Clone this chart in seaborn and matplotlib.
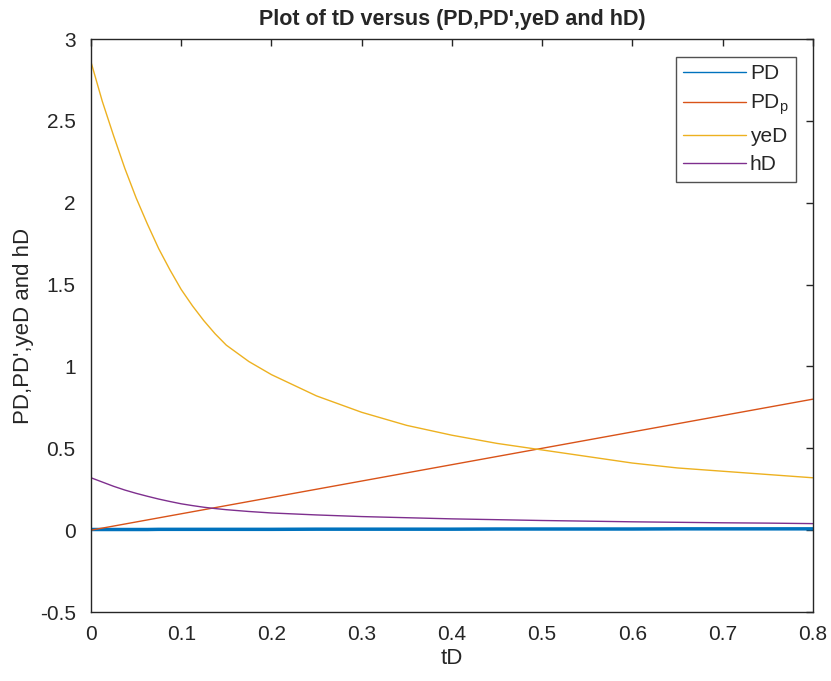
import numpy as np
import pandas as pd
import matplotlib
matplotlib.use("Agg")
import matplotlib.pyplot as plt
import seaborn as sns

# nilai
tD = [0, 0.0125, 0.025, 0.0375, 0.05, 0.0625, 0.075, 0.0875, 0.1, 0.1125, 0.125, 0.1375,
      0.15, 0.175, 0.2, 0.25, 0.3, 0.35, 0.4, 0.45, 0.5, 0.55, 0.6, 0.65, 0.7, 0.75, 0.8]
PD = [0.004, 0.004, 0.004, 0.004, 0.004, 0.004, 0.005, 0.005, 0.005, 0.005, 0.005, 0.005,
      0.005, 0.005, 0.005, 0.006, 0.006, 0.006, 0.006, 0.007, 0.007, 0.007, 0.007, 0.008,
      0.008, 0.008, 0.008]
PDp = [0, 0.0125, 0.025, 0.0375, 0.05, 0.0625, 0.075, 0.0875, 0.1, 0.1125, 0.125, 0.1375,
       0.15, 0.175, 0.2, 0.25, 0.3, 0.35, 0.4, 0.45, 0.5, 0.55, 0.6, 0.65, 0.7, 0.75, 0.8]
yeD = [2.86, 2.62, 2.41, 2.21, 2.03, 1.87, 1.72, 1.59, 1.47, 1.37, 1.28, 1.20,
       1.13, 1.03, 0.95, 0.82, 0.72, 0.64, 0.58, 0.53, 0.49, 0.45, 0.41, 0.38, 0.36, 0.34, 0.32]
hD = [0.32, 0.294, 0.268, 0.245, 0.225, 0.207, 0.19, 0.175, 0.161, 0.15, 0.14, 0.132,
      0.125, 0.114, 0.105, 0.093, 0.083, 0.076, 0.069, 0.064, 0.059, 0.055, 0.051, 0.048,
      0.045, 0.043, 0.040]

labels = ["PD", r"PD$_\mathregular{p}$", "yeD", "hD"]
colors = ["#0072BD", "#D95319", "#EDB120", "#7E2F8E"]

frame = pd.DataFrame({"tD": tD * 4,
                      "value": PD + PDp + yeD + hD,
                      "series": sum([[l] * len(tD) for l in labels], [])})

sns.set_style("white")
plt.rcParams['font.family'] = ['Liberation Sans', 'DejaVu Sans']

fig = plt.figure(figsize=(8.31, 6.81), dpi=100)
ax = fig.add_axes([0.1095, 0.1013, 0.8685, 0.8414])
sns.lineplot(data=frame, x="tD", y="value", hue="series", palette=dict(zip(labels, colors)),
             ax=ax, linewidth=1.0, legend=False)
ax.lines[0].set_linewidth(2.5)

ax.set_xlim(0, 0.8)
ax.set_ylim(-0.5, 3)
ax.set_xticks(np.arange(0, 0.81, 0.1))
ax.set_xticklabels(["0", "0.1", "0.2", "0.3", "0.4", "0.5", "0.6", "0.7", "0.8"])
ax.set_yticks(np.arange(-0.5, 3.01, 0.5))
ax.set_yticklabels(["-0.5", "0", "0.5", "1", "1.5", "2", "2.5", "3"])
ax.tick_params(direction="in", length=5, width=1, top=True, right=True, labelsize=15,
               colors="#262626")
ax.tick_params(axis="x", pad=9)
ax.tick_params(axis="y", pad=11)
for s in ax.spines.values():
    s.set_color("#262626")
    s.set_linewidth(1)

ax.set_xlabel("tD", fontsize=16, color="#262626", labelpad=3)
ax.set_ylabel("PD,PD',yeD and hD", fontsize=16, color="#262626", labelpad=4)
ax.set_title("Plot of tD versus (PD,PD',yeD and hD)", fontsize=15.5, fontweight="bold", pad=10)

leg = ax.legend(ax.lines[:4], labels, loc="upper right", bbox_to_anchor=(0.9765, 0.9686),
                fontsize=15, frameon=True, fancybox=False, edgecolor="#262626",
                handlelength=3.0, handletextpad=0.2, labelspacing=0.45, borderpad=0.35,
                borderaxespad=0)
leg.get_frame().set_linewidth(1)
for h in leg.legend_handles:
    h.set_linewidth(1.0)

plt.savefig("out.png", dpi=100)
